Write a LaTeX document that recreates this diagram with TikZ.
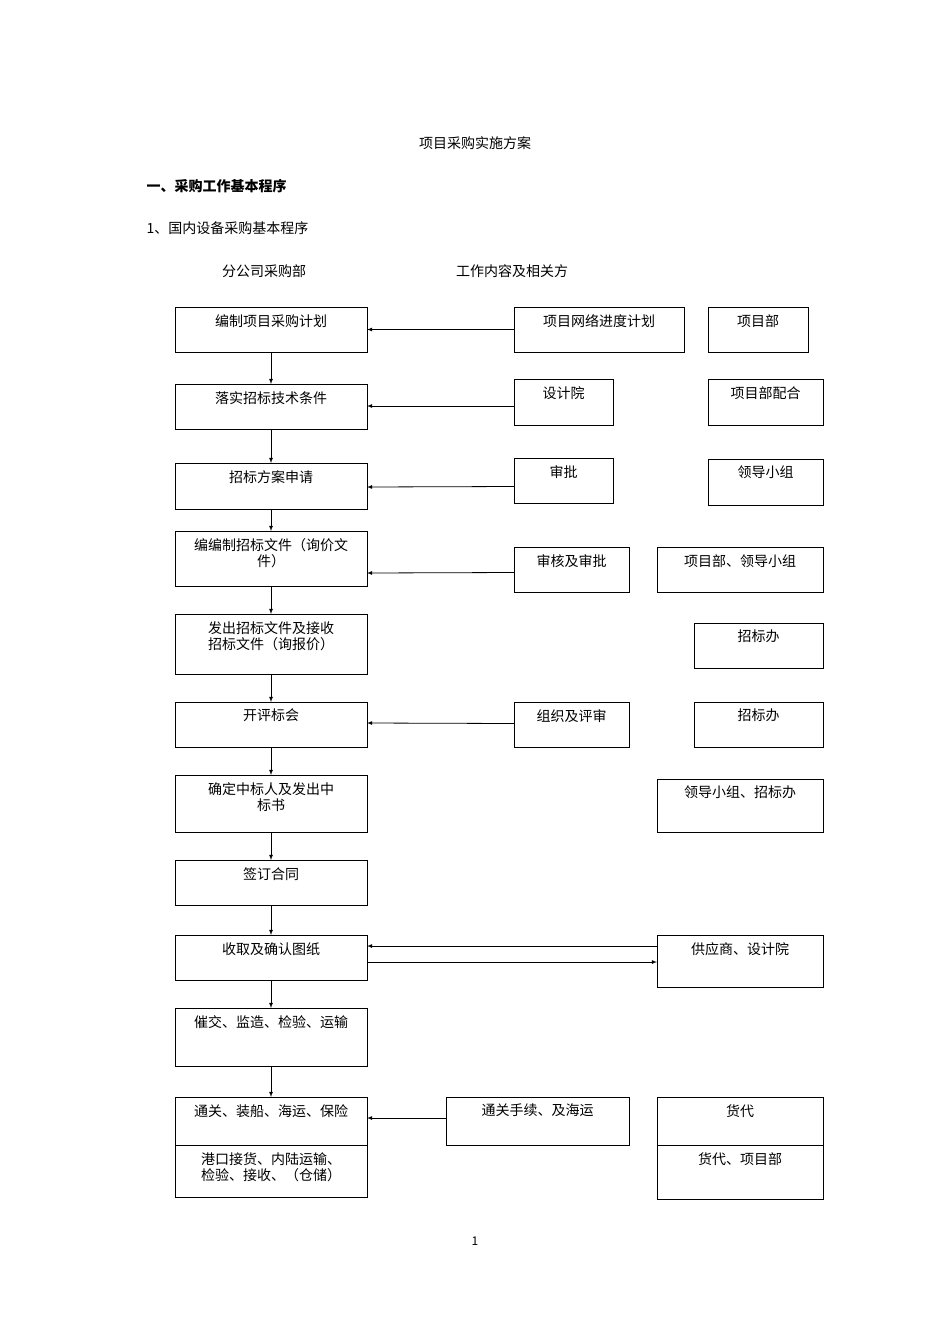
\documentclass[tikz,border=0pt]{standalone}
\usepackage{fontspec}
\setmainfont{Liberation Serif}
\newfontfamily\cjk{Noto Sans CJK SC}
\begin{document}
\begin{tikzpicture}[x=1pt,y=-1pt,font=\cjk\fontsize{14}{16}\selectfont,
  bx/.style={draw,line width=0.8pt},
  tx/.style={anchor=north,align=center,inner sep=0pt},
  ar/.style={-latex,line width=0.8pt}]
\useasboundingbox[fill=white] (0,0) rectangle (950,1344);
\newcommand{\bb}[6]{\draw[bx] (#2,#3) rectangle (#4,#5); \node[tx] (#1) at ({(#2+#4)/2},#3+7) {#6};
 \coordinate (#1w) at (#2,{(#3+#5)/2}); \coordinate (#1e) at (#4,{(#3+#5)/2});
 \coordinate (#1n) at ({(#2+#4)/2},#3); \coordinate (#1s) at ({(#2+#4)/2},#5);}
\node (title) at (475,143) {项目采购实施方案};
\node[anchor=west] (h1) at (143,186) {\bfseries 一、采购工作基本程序};
\node[anchor=west] (h2) at (143,228) {1、国内设备采购基本程序};
\node (c1) at (264,271) {分公司采购部};
\node (c2) at (512,271) {工作内容及相关方};
\node (pg) at (475,1241) {\fontsize{12}{14}\selectfont 1};
% left column
\bb{L1}{175}{307}{367}{352}{编制项目采购计划}
\bb{L2}{175}{384}{367}{429}{落实招标技术条件}
\bb{L3}{175}{463}{367}{509}{招标方案申请}
\bb{L4}{175}{531}{367}{586}{编编制招标文件（询价文\\件）}
\bb{L5}{175}{614}{367}{674}{发出招标文件及接收\\招标文件（询报价）}
\bb{L6}{175}{702}{367}{747}{开评标会}
\bb{L7}{175}{775}{367}{832}{确定中标人及发出中\\标书}
\bb{L8}{175}{860}{367}{905}{签订合同}
\bb{L9}{175}{935}{367}{980}{收取及确认图纸}
\bb{L10}{175}{1008}{367}{1066}{催交、监造、检验、运输}
\bb{L11}{175}{1097}{367}{1145}{通关、装船、海运、保险}
\bb{L12}{175}{1145}{367}{1197}{港口接货、内陆运输、\\检验、接收、（仓储）}
% middle
\bb{M1}{514}{307}{684}{352}{项目网络进度计划}
\bb{M2}{514}{379}{613}{425}{设计院}
\bb{M3}{514}{458}{613}{503}{审批}
\bb{M4}{514}{547}{629}{592}{审核及审批}
\bb{M6}{514}{702}{629}{747}{组织及评审}
\bb{M11}{446}{1097}{629}{1145}{通关手续、及海运}
% right
\bb{R1}{708}{307}{808}{352}{项目部}
\bb{R2}{708}{379}{823}{425}{项目部配合}
\bb{R3}{708}{459}{823}{505}{领导小组}
\bb{R4}{657}{547}{823}{592}{项目部、领导小组}
\bb{R5}{694}{623}{823}{668}{招标办}
\bb{R6}{694}{702}{823}{747}{招标办}
\bb{R7}{657}{779}{823}{832}{领导小组、招标办}
\bb{R9}{657}{935}{823}{987}{供应商、设计院}
\bb{R11}{657}{1097}{823}{1145}{货代}
\bb{R12}{657}{1145}{823}{1199}{货代、项目部}
% horizontal arrows
\draw[ar] (M1w) -- (L1e);
\draw[ar] (M2w) ++(0,4) -- (367,406);
\draw[ar] (M3w) ++(0,6) -- (367,487);
\draw[ar] (M4w) ++(0,3) -- (367,573);
\draw[ar] (M6w) ++(0,-1) -- (367,723);
\draw[ar] (M11w) ++(0,-3) -- (367,1118);
\draw[ar] (657,946) -- (367,946);
\draw[ar] (367,962) -- (657,962);
% vertical arrows
\foreach \a/\b in {L1/L2,L2/L3,L3/L4,L4/L5,L5/L6,L6/L7,L7/L8,L8/L9,L9/L10,L10/L11}
  \draw[ar] (\a s) -- (\b n);
\end{tikzpicture}
\end{document}
